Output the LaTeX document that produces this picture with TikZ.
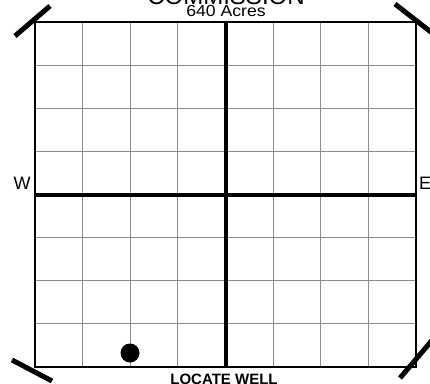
\documentclass[tikz,border=0pt]{standalone}
\usepackage{fontspec}
\setmainfont{Liberation Sans}
\usetikzlibrary{positioning}

\begin{document}
\begin{tikzpicture}[x=1pt, y=-1pt,
  every node/.style={inner sep=0pt, font=\fontsize{16}{16}\selectfont},
  gridline/.style={black!45, line width=0.8pt},
  border/.style={black, line width=2.4pt},
  centerline/.style={black, line width=4pt},
  cornermark/.style={black, line width=5pt},
  compass/.style={anchor=base, font=\fontsize{18}{18}\selectfont},
]
  \useasboundingbox (0,0) rectangle (430,383);

  \coordinate (nw) at (35,22);
  \coordinate (ne) at (416,22);
  \coordinate (sw) at (35,367);
  \coordinate (se) at (416,367);

  % fine grid
  \foreach \i in {1,2,3,5,6,7} {
    \draw[gridline] ({35+47.625*\i},22) -- ({35+47.625*\i},367);
    \draw[gridline] (35,{22+43.125*\i}) -- (416,{22+43.125*\i});
  }

  % quarter lines and section edge
  \draw[centerline] (225.5,22) -- (225.5,367);
  \draw[centerline] (35,194.5) -- (416,194.5);
  \draw[border] (nw) -- (ne) -- (se) -- (sw) -- cycle;

  % corner marks
  \draw[cornermark] (15,36) -- (50,6);
  \draw[cornermark] (395,4) -- (436,36);
  \draw[cornermark] (12,360) -- (52,381);
  \draw[cornermark] (400,378) -- (434,338);

  % well
  \fill (130,353) circle (9.5);

  % labels
  \node[anchor=base, font=\fontsize{24}{24}\selectfont] (title) at (226,4) {COMMISSION};
  \node[anchor=base, xscale=1.1] (acres) at (226,16) {640 Acres};
  \node[anchor=base, font=\fontsize{15}{15}\bfseries] (locate) at (224,384) {LOCATE WELL};
  \node[compass] (west) at (22,189) {W};
  \node[compass, anchor=base west] (east) at (419,189) {E};
\end{tikzpicture}
\end{document}
